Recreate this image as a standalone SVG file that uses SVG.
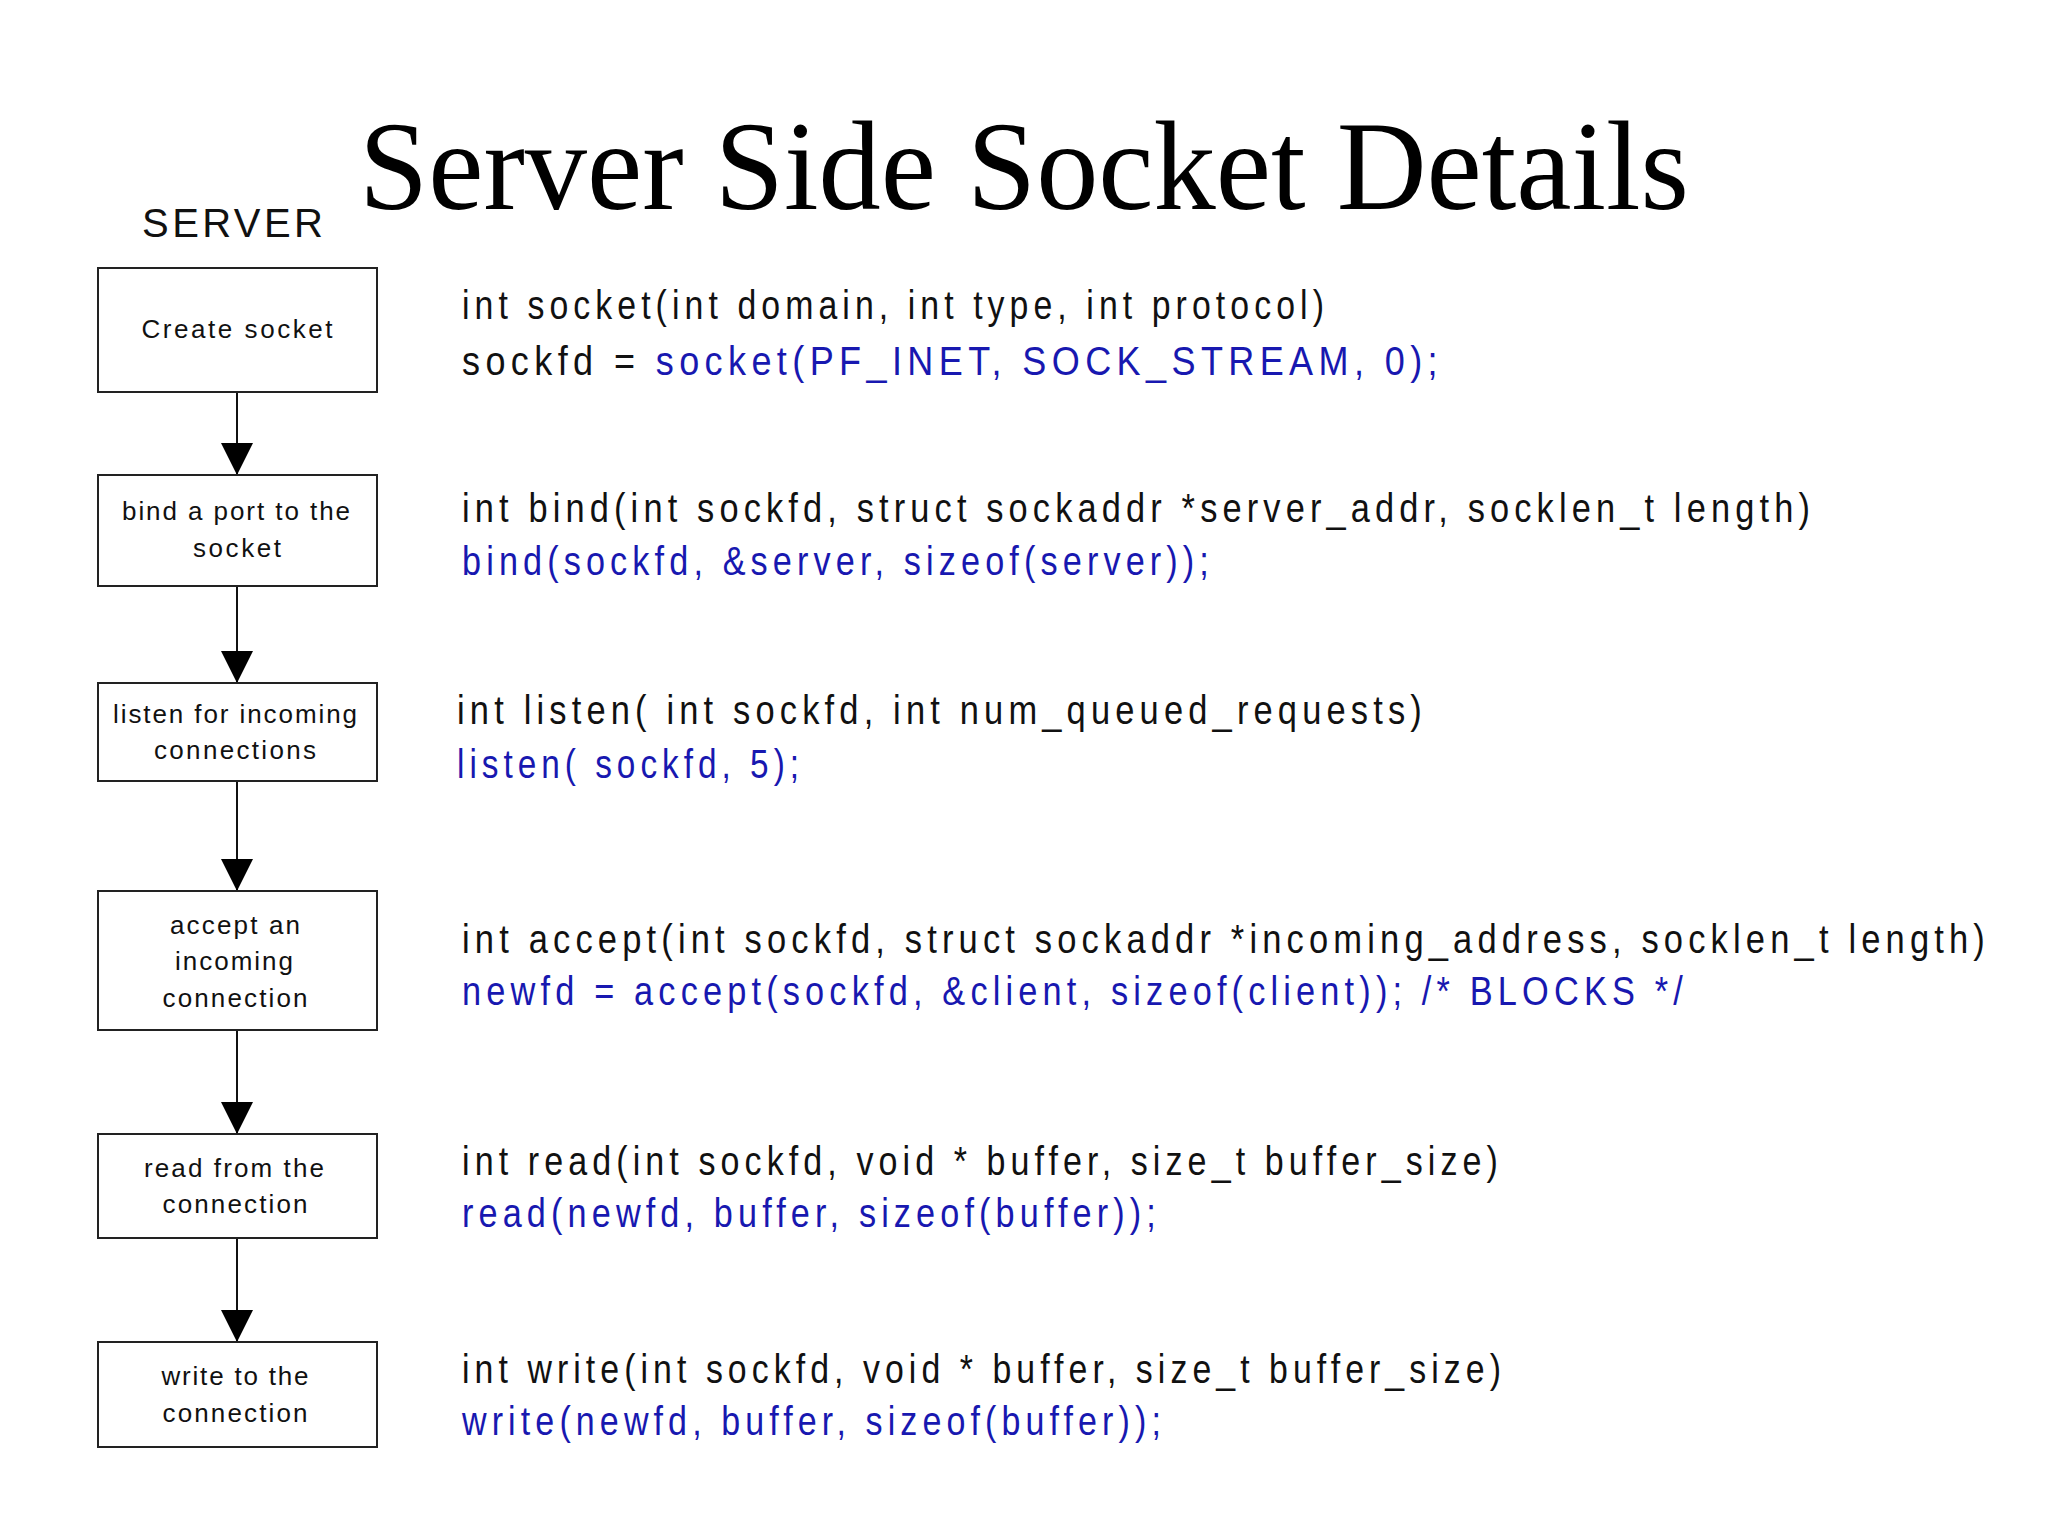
<svg xmlns="http://www.w3.org/2000/svg" width="2048" height="1536" viewBox="0 0 2048 1536">
<style>
.title{font-family:"Liberation Serif","Times New Roman",serif;font-size:126px;fill:#000}
.hdr{font-family:"Liberation Sans",Arial,sans-serif;font-size:40px;fill:#111}
.box{fill:#fff;stroke:#222;stroke-width:2}
.lbl{font-family:"Liberation Sans",Arial,sans-serif;font-size:26px;fill:#111;text-anchor:middle}
.code{font-family:"Liberation Sans",Arial,sans-serif;font-size:40px;fill:#111;letter-spacing:6px}
.b{fill:#1818b0}
.conn{stroke:#111;stroke-width:2;fill:none}
</style>
<rect width="2048" height="1536" fill="#fff"/>
<text class="title" x="359" y="209" textLength="1330" lengthAdjust="spacingAndGlyphs">Server Side Socket Details</text>
<text class="hdr" x="142" y="237" textLength="181" lengthAdjust="spacing">SERVER</text>

<g id="connectors">
<line class="conn" x1="237" y1="392" x2="237" y2="475"/>
<path d="M221,443 L253,443 L237,475 Z" fill="#000"/>
<line class="conn" x1="237" y1="586" x2="237" y2="683"/>
<path d="M221,651 L253,651 L237,683 Z" fill="#000"/>
<line class="conn" x1="237" y1="781" x2="237" y2="891"/>
<path d="M221,859 L253,859 L237,891 Z" fill="#000"/>
<line class="conn" x1="237" y1="1030" x2="237" y2="1134"/>
<path d="M221,1102 L253,1102 L237,1134 Z" fill="#000"/>
<line class="conn" x1="237" y1="1238" x2="237" y2="1342"/>
<path d="M221,1310 L253,1310 L237,1342 Z" fill="#000"/>
</g>

<g id="node-create">
<rect class="box" x="98" y="268" width="279" height="124"/>
<text class="lbl" x="237" y="338" textLength="191" lengthAdjust="spacing">Create socket</text>
</g>
<g id="node-bind">
<rect class="box" x="98" y="475" width="279" height="111"/>
<text class="lbl" x="236" y="520" textLength="228" lengthAdjust="spacing">bind a port to the</text>
<text class="lbl" x="237" y="557" textLength="88" lengthAdjust="spacing">socket</text>
</g>
<g id="node-listen">
<rect class="box" x="98" y="683" width="279" height="98"/>
<text class="lbl" x="235" y="723" textLength="244" lengthAdjust="spacing">listen for incoming</text>
<text class="lbl" x="235" y="759" textLength="162" lengthAdjust="spacing">connections</text>
</g>
<g id="node-accept">
<rect class="box" x="98" y="891" width="279" height="139"/>
<text class="lbl" x="235" y="934" textLength="130" lengthAdjust="spacing">accept an</text>
<text class="lbl" x="234" y="970" textLength="118" lengthAdjust="spacing">incoming</text>
<text class="lbl" x="235" y="1007" textLength="145" lengthAdjust="spacing">connection</text>
</g>
<g id="node-read">
<rect class="box" x="98" y="1134" width="279" height="104"/>
<text class="lbl" x="234" y="1177" textLength="180" lengthAdjust="spacing">read from the</text>
<text class="lbl" x="235" y="1213" textLength="145" lengthAdjust="spacing">connection</text>
</g>
<g id="node-write">
<rect class="box" x="98" y="1342" width="279" height="105"/>
<text class="lbl" x="235" y="1385" textLength="147" lengthAdjust="spacing">write to the</text>
<text class="lbl" x="235" y="1422" textLength="145" lengthAdjust="spacing">connection</text>
</g>

<g id="code">
<text class="code" x="462" y="319" textLength="867" lengthAdjust="spacingAndGlyphs">int socket(int domain, int type, int protocol)</text>
<text class="code" x="462" y="375" textLength="981" lengthAdjust="spacingAndGlyphs">sockfd = <tspan class="b">socket(PF_INET, SOCK_STREAM, 0);</tspan></text>
<text class="code" x="462" y="522" textLength="1353" lengthAdjust="spacingAndGlyphs">int bind(int sockfd, struct sockaddr *server_addr, socklen_t length)</text>
<text class="code b" x="462" y="575" textLength="752" lengthAdjust="spacingAndGlyphs">bind(sockfd, &amp;server, sizeof(server));</text>
<text class="code" x="457" y="724" textLength="970" lengthAdjust="spacingAndGlyphs">int listen( int sockfd, int num_queued_requests)</text>
<text class="code b" x="457" y="778" textLength="347" lengthAdjust="spacingAndGlyphs">listen( sockfd, 5);</text>
<text class="code" x="462" y="953" textLength="1528" lengthAdjust="spacingAndGlyphs">int accept(int sockfd, struct sockaddr *incoming_address, socklen_t length)</text>
<text class="code b" x="462" y="1005" textLength="1226" lengthAdjust="spacingAndGlyphs">newfd = accept(sockfd, &amp;client, sizeof(client)); /* BLOCKS */</text>
<text class="code" x="462" y="1175" textLength="1041" lengthAdjust="spacingAndGlyphs">int read(int sockfd, void * buffer, size_t buffer_size)</text>
<text class="code b" x="462" y="1227" textLength="699" lengthAdjust="spacingAndGlyphs">read(newfd, buffer, sizeof(buffer));</text>
<text class="code" x="462" y="1383" textLength="1044" lengthAdjust="spacingAndGlyphs">int write(int sockfd, void * buffer, size_t buffer_size)</text>
<text class="code b" x="462" y="1435" textLength="704" lengthAdjust="spacingAndGlyphs">write(newfd, buffer, sizeof(buffer));</text>
</g>
</svg>
